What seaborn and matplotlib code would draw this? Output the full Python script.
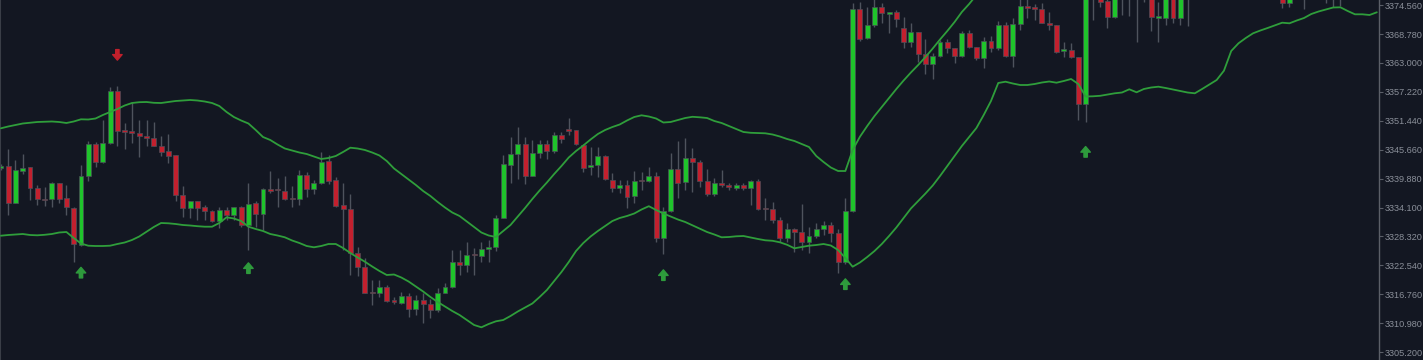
import numpy as np
import pandas as pd
import matplotlib
matplotlib.use("Agg")
import matplotlib.pyplot as plt
from matplotlib.transforms import offset_copy
import seaborn as sns

# ------------------------------------------------------------------------------
# 1. DATA
# ------------------------------------------------------------------------------
opens = [
    3342.00, 3342.46, 3335.06, 3341.46, 3342.14, 3337.94, 3335.74, 3335.74, 3338.94, 3336.00,
    3334.06, 3326.60, 3340.40, 3346.74, 3343.14, 3346.94, 3357.40, 3349.46, 3349.40, 3349.00,
    3348.46, 3348.00, 3346.46, 3345.40, 3344.54, 3336.54, 3333.94, 3335.46, 3334.20, 3333.40,
    3331.46, 3333.60, 3332.60, 3334.20, 3330.60, 3334.94, 3332.74, 3337.80, 3337.60, 3337.40,
    3335.94, 3335.74, 3340.54, 3337.74, 3339.06, 3343.40, 3339.60, 3334.60, 3333.74, 3324.94,
    3322.26, 3317.14, 3317.06, 3318.14, 3315.60, 3314.94, 3316.40, 3313.74, 3315.60, 3314.80,
    3313.60, 3317.06, 3318.26, 3323.14, 3322.60, 3324.60, 3324.46, 3325.80, 3326.20, 3332.00,
    3342.60, 3344.74, 3346.74, 3340.46, 3344.94, 3346.74, 3345.40, 3348.60, 3349.74, 3349.60,
    3346.60, 3342.14, 3342.60, 3344.46, 3339.60, 3337.94, 3338.60, 3336.40, 3339.40, 3339.40,
    3340.46, 3328.06, 3333.40, 3341.74, 3339.14, 3343.94, 3343.26, 3339.46, 3336.80, 3339.06,
    3338.54, 3338.06, 3338.54, 3338.06, 3339.40, 3333.80, 3333.80, 3331.60, 3328.06, 3329.80,
    3329.14, 3327.14, 3328.46, 3329.74, 3330.60, 3329.06, 3323.14, 3333.40, 3373.80, 3367.94,
    3370.60, 3374.14, 3372.74, 3373.14, 3369.94, 3367.14, 3369.14, 3364.80, 3362.80, 3364.40,
    3367.26, 3365.94, 3364.46, 3368.94, 3366.14, 3363.94, 3367.34, 3366.06, 3370.54, 3364.46,
    3370.80, 3374.40, 3374.20, 3373.80, 3371.06, 3370.54, 3365.40, 3365.60, 3364.14, 3354.74,
    3376.80, 3378.00, 3375.40, 3372.14, 3376.20, 3378.60, 3376.60, 3379.20, 3377.20, 3372.10,
    3372.06, 3376.20, 3371.94, 3376.60, 3378.60, 3381.20, 3379.60, 3382.00, 3380.60, 3383.60,
    3382.60, 3384.60, 3383.20, 3381.60, 3379.60, 3378.00, 3376.60, 3375.06, 3377.20, 3379.20,
    3376.80, 3378.80, 3380.40, 3378.40, 3376.40, 3378.00, 3380.00, 3381.60, 3380.40, 3382.40,
]
closes = [
    3342.40, 3335.06, 3341.54, 3342.06, 3337.94, 3335.74, 3335.66, 3338.94, 3335.86, 3334.14,
    3326.74, 3340.34, 3346.74, 3343.14, 3346.94, 3357.40, 3349.46, 3349.30, 3348.94, 3348.46,
    3347.94, 3346.46, 3345.26, 3344.46, 3336.54, 3333.94, 3335.46, 3333.94, 3333.46, 3331.46,
    3333.60, 3332.60, 3334.20, 3330.60, 3334.86, 3332.74, 3337.80, 3337.46, 3337.54, 3335.86,
    3335.74, 3340.54, 3337.74, 3339.06, 3343.26, 3339.46, 3334.40, 3333.74, 3324.94, 3322.26,
    3317.06, 3317.06, 3318.14, 3315.46, 3315.14, 3316.40, 3313.74, 3315.60, 3314.80, 3313.60,
    3317.06, 3318.26, 3323.14, 3322.60, 3324.60, 3324.54, 3325.80, 3326.26, 3332.00, 3342.74,
    3344.74, 3346.74, 3340.46, 3344.94, 3346.74, 3345.40, 3348.60, 3347.74, 3349.46, 3346.74,
    3342.06, 3342.60, 3344.40, 3339.74, 3337.94, 3338.60, 3336.26, 3339.40, 3339.34, 3340.46,
    3328.06, 3333.40, 3341.74, 3339.06, 3343.94, 3343.26, 3339.46, 3336.80, 3339.06, 3338.54,
    3338.14, 3338.54, 3338.06, 3339.40, 3333.80, 3333.74, 3331.60, 3328.06, 3329.80, 3329.14,
    3327.14, 3328.46, 3329.80, 3330.60, 3329.06, 3323.14, 3333.40, 3373.80, 3367.80, 3370.60,
    3374.26, 3372.94, 3373.14, 3371.80, 3367.14, 3369.14, 3364.80, 3362.80, 3364.40, 3367.26,
    3365.94, 3364.46, 3368.94, 3366.14, 3363.94, 3367.34, 3366.06, 3370.54, 3364.46, 3370.80,
    3374.40, 3374.06, 3373.80, 3371.06, 3370.54, 3365.26, 3365.74, 3364.26, 3354.74, 3377.20,
    3379.60, 3375.26, 3372.26, 3376.20, 3378.60, 3376.60, 3379.20, 3377.20, 3372.14, 3372.20,
    3376.00, 3371.94, 3376.60, 3378.60, 3381.20, 3379.60, 3382.00, 3380.60, 3383.60, 3382.60,
    3384.60, 3383.20, 3381.60, 3379.60, 3378.00, 3376.60, 3375.06, 3377.20, 3379.20, 3376.80,
    3378.80, 3380.40, 3378.40, 3376.40, 3378.00, 3380.00, 3381.60, 3380.40, 3382.40, 3381.20,
]
highs = [
    3342.80, 3345.80, 3343.54, 3344.86, 3342.20, 3338.60, 3338.26, 3339.26, 3339.06, 3338.60,
    3334.20, 3342.60, 3347.40, 3347.26, 3351.60, 3358.26, 3358.40, 3350.94, 3355.20, 3351.60,
    3351.60, 3351.26, 3348.40, 3348.74, 3344.60, 3338.40, 3335.50, 3335.50, 3334.60, 3333.60,
    3334.26, 3334.26, 3334.30, 3334.40, 3338.94, 3335.40, 3338.00, 3341.40, 3339.94, 3340.40,
    3338.46, 3341.60, 3341.26, 3339.60, 3345.26, 3344.60, 3340.26, 3338.94, 3336.74, 3326.26,
    3323.94, 3319.60, 3319.60, 3318.60, 3316.26, 3317.26, 3316.94, 3316.60, 3316.94, 3315.74,
    3317.94, 3319.06, 3325.60, 3325.60, 3327.26, 3325.94, 3327.26, 3327.60, 3332.60, 3344.60,
    3348.26, 3350.14, 3348.26, 3347.60, 3347.60, 3347.60, 3349.26, 3349.26, 3351.94, 3349.70,
    3346.80, 3346.26, 3346.14, 3344.54, 3340.94, 3339.60, 3339.60, 3341.40, 3341.26, 3342.14,
    3341.26, 3334.14, 3344.94, 3347.46, 3347.94, 3345.94, 3343.60, 3341.74, 3339.94, 3341.60,
    3338.94, 3338.94, 3338.94, 3339.60, 3339.74, 3335.94, 3335.14, 3332.26, 3330.94, 3329.94,
    3334.80, 3330.26, 3330.94, 3331.40, 3331.26, 3329.74, 3335.94, 3375.00, 3375.20, 3374.26,
    3375.80, 3374.94, 3373.20, 3373.60, 3372.14, 3370.94, 3369.20, 3367.74, 3365.06, 3367.60,
    3367.74, 3366.00, 3369.46, 3369.60, 3366.26, 3368.26, 3368.40, 3371.46, 3371.26, 3371.94,
    3376.00, 3376.20, 3374.80, 3374.94, 3373.26, 3370.60, 3367.14, 3367.06, 3364.20, 3378.60,
    3381.60, 3379.20, 3376.60, 3377.20, 3380.00, 3380.60, 3381.20, 3380.60, 3378.00, 3375.26,
    3377.20, 3377.20, 3377.60, 3380.00, 3382.60, 3382.40, 3383.60, 3383.20, 3384.80, 3385.20,
    3386.00, 3385.60, 3384.60, 3382.80, 3381.20, 3379.20, 3378.00, 3378.40, 3380.40, 3380.40,
    3380.00, 3381.60, 3381.60, 3379.60, 3379.20, 3381.20, 3382.80, 3383.20, 3383.60, 3384.00,
]
lows = [
    3341.60, 3332.60, 3335.00, 3340.74, 3335.60, 3334.60, 3334.40, 3334.14, 3334.94, 3332.60,
    3323.26, 3326.50, 3339.46, 3342.14, 3343.10, 3346.90, 3346.40, 3345.80, 3347.00, 3344.26,
    3346.46, 3346.40, 3344.40, 3342.94, 3335.46, 3332.14, 3332.06, 3331.60, 3331.60, 3331.26,
    3329.94, 3331.60, 3331.60, 3330.26, 3325.60, 3330.26, 3329.60, 3336.94, 3334.14, 3335.60,
    3334.14, 3334.60, 3336.26, 3336.80, 3338.80, 3338.80, 3334.14, 3325.60, 3320.60, 3320.46,
    3316.94, 3314.60, 3316.26, 3315.26, 3314.80, 3314.80, 3312.26, 3312.60, 3311.06, 3311.94,
    3313.26, 3316.94, 3317.94, 3320.60, 3321.26, 3320.60, 3323.26, 3323.26, 3325.46, 3331.94,
    3338.94, 3339.80, 3338.74, 3340.40, 3343.94, 3343.74, 3344.94, 3347.06, 3348.60, 3346.60,
    3341.26, 3340.60, 3340.26, 3339.60, 3337.26, 3336.94, 3333.94, 3335.06, 3337.60, 3339.26,
    3327.26, 3324.80, 3333.26, 3335.94, 3337.60, 3337.26, 3338.14, 3336.46, 3336.46, 3338.26,
    3337.60, 3337.60, 3337.60, 3334.60, 3333.60, 3331.60, 3330.94, 3327.26, 3327.26, 3325.26,
    3325.60, 3325.06, 3327.94, 3328.60, 3327.26, 3321.06, 3322.80, 3333.20, 3367.46, 3367.74,
    3370.26, 3370.94, 3368.94, 3370.14, 3365.94, 3366.26, 3363.26, 3360.80, 3359.74, 3364.26,
    3364.94, 3363.06, 3364.26, 3366.00, 3363.60, 3361.94, 3365.14, 3365.60, 3364.26, 3362.26,
    3369.60, 3371.94, 3371.60, 3370.94, 3369.60, 3365.06, 3364.14, 3363.94, 3351.60, 3351.14,
    3371.60, 3374.26, 3369.94, 3372.06, 3372.60, 3372.40, 3367.26, 3375.20, 3369.46, 3367.26,
    3370.60, 3371.06, 3370.60, 3370.40, 3376.60, 3377.60, 3378.00, 3378.60, 3379.20, 3380.60,
    3381.20, 3381.60, 3380.00, 3378.00, 3376.60, 3375.80, 3373.94, 3374.26, 3376.00, 3373.74,
    3375.80, 3376.80, 3374.94, 3374.26, 3374.40, 3376.20, 3378.60, 3379.20, 3379.60, 3380.00,
]

# Bollinger-style envelope (upper leaves the chart after the breakout)
upper_band = [
    3349.94, 3350.30, 3350.60, 3350.90, 3351.06, 3351.20, 3351.26, 3351.30, 3351.20, 3351.00,
    3351.30, 3351.74, 3351.70, 3351.90, 3352.60, 3353.20, 3353.80, 3354.50, 3355.00, 3355.16,
    3355.20, 3355.04, 3355.00, 3355.20, 3355.40, 3355.50, 3355.60, 3355.50, 3355.30, 3355.00,
    3354.40, 3353.20, 3352.20, 3351.50, 3350.90, 3349.60, 3348.20, 3347.60, 3346.70, 3345.90,
    3345.50, 3345.10, 3344.80, 3344.30, 3343.80, 3344.00, 3344.40, 3345.20, 3346.06, 3345.90,
    3345.60, 3345.10, 3344.50, 3343.40, 3341.90, 3340.80, 3339.70, 3338.60, 3337.40, 3336.40,
    3335.20, 3334.10, 3333.10, 3332.40, 3331.30, 3330.20, 3329.10, 3328.50, 3328.20, 3329.40,
    3330.60, 3332.30, 3334.00, 3335.80, 3337.50, 3339.10, 3340.80, 3342.40, 3344.10, 3345.40,
    3346.50, 3347.70, 3348.80, 3349.60, 3350.20, 3350.70, 3351.50, 3352.20, 3352.54, 3352.30,
    3351.90, 3351.10, 3351.20, 3351.60, 3352.00, 3352.24, 3352.14, 3352.00, 3351.40, 3351.00,
    3350.40, 3349.80, 3349.20, 3349.04, 3349.00, 3348.94, 3348.70, 3348.30, 3347.80, 3347.40,
    3346.80, 3346.20, 3344.40, 3343.20, 3342.10, 3341.40, 3341.40, 3345.60, 3348.26, 3350.40,
    3352.40, 3354.20, 3356.00, 3357.80, 3359.50, 3361.10, 3362.60, 3364.20, 3365.90, 3367.70,
    3369.40, 3371.20, 3373.20, 3374.80, 3376.60, 3378.20,
]
lower_band = [
    3328.46, 3328.60, 3328.70, 3328.80, 3328.60, 3328.54, 3328.64, 3328.80, 3329.10, 3329.20,
    3328.00, 3326.90, 3326.46, 3326.40, 3326.40, 3326.46, 3326.80, 3327.10, 3327.60, 3328.30,
    3329.26, 3330.20, 3331.00, 3330.94, 3330.80, 3330.60, 3330.50, 3330.36, 3330.26, 3330.26,
    3331.00, 3332.14, 3331.90, 3331.40, 3330.26, 3329.80, 3329.40, 3328.80, 3328.50, 3328.14,
    3327.50, 3327.00, 3326.40, 3326.14, 3326.40, 3326.80, 3326.80, 3326.00, 3325.00, 3324.10,
    3323.26, 3322.30, 3321.40, 3320.60, 3320.70, 3320.10, 3319.30, 3318.30, 3317.30, 3316.20,
    3315.20, 3314.30, 3313.40, 3312.60, 3311.60, 3310.60, 3310.14, 3310.80, 3311.34, 3311.60,
    3312.40, 3313.30, 3314.10, 3314.90, 3316.20, 3317.60, 3319.40, 3321.20, 3323.20, 3325.40,
    3327.00, 3328.30, 3329.40, 3330.40, 3331.40, 3332.00, 3332.40, 3332.90, 3333.70, 3334.36,
    3333.60, 3332.90, 3332.30, 3331.70, 3331.20, 3330.54, 3329.90, 3329.20, 3328.70, 3328.14,
    3328.20, 3328.34, 3328.40, 3328.10, 3327.80, 3327.54, 3327.44, 3327.14, 3326.64, 3325.94,
    3326.20, 3326.46, 3326.60, 3326.80, 3326.50, 3325.60, 3324.00, 3322.26, 3323.10, 3324.20,
    3325.40, 3326.80, 3328.40, 3330.10, 3332.00, 3333.90, 3335.40, 3336.90, 3338.50, 3340.40,
    3342.40, 3344.40, 3346.40, 3348.20, 3350.00, 3352.60, 3355.40, 3359.00, 3359.26, 3358.90,
    3358.60, 3358.60, 3358.80, 3359.10, 3359.30, 3359.06, 3359.40, 3359.80, 3358.80, 3356.30,
    3356.34, 3356.44, 3356.70, 3356.94, 3357.10, 3357.74, 3357.14, 3357.80, 3358.10, 3358.26,
    3358.00, 3357.70, 3357.40, 3357.10, 3356.94, 3357.80, 3358.70, 3359.60, 3361.46, 3365.40,
    3366.94, 3368.00, 3368.94, 3369.50, 3370.00, 3370.54, 3371.06, 3370.94, 3371.50, 3372.00,
    3372.80, 3373.30, 3373.70, 3374.10, 3374.14, 3373.40, 3372.74, 3372.74, 3372.60, 3373.14,
]

# signal arrows: candle index and price level of the arrow centre
buy_signals = [11, 34, 91, 116, 149]
buy_levels = [3321.10, 3322.00, 3320.60, 3318.80, 3345.26]
sell_signals = [16]
sell_levels = [3364.60]

price_ticks = [3305.20, 3310.98, 3316.76, 3322.54, 3328.32, 3334.10, 3339.88,
               3345.66, 3351.44, 3357.22, 3363.00, 3368.78, 3374.56]

# ------------------------------------------------------------------------------
# 2. STYLE
# ------------------------------------------------------------------------------
BG = "#131722"
UP = "#1fc42b"
DOWN = "#c3202e"
WICK = "#4e535d"
BAND = "#2f9e3b"

sns.set_style("dark", rc={"axes.facecolor": BG, "figure.facecolor": BG})
plt.rcParams["font.family"] = ["Liberation Sans", "DejaVu Sans"]

df = pd.DataFrame({"open": opens, "high": highs, "low": lows, "close": closes})
df["idx"] = np.arange(len(df))
df["up"] = df["close"] >= df["open"]
df["bottom"] = df[["open", "close"]].min(axis=1)
df["height"] = (df["close"] - df["open"]).abs().clip(lower=0.22)

fig = plt.figure(figsize=(14.23, 3.6), dpi=100)
ax = fig.add_axes([0, 0, 1379 / 1423, 1])
ax.set_facecolor(BG)

# ------------------------------------------------------------------------------
# 3. CANDLES + BANDS
# ------------------------------------------------------------------------------
ax.vlines(df["idx"], df["low"], df["high"], color=WICK, linewidth=1.0, zorder=1)
ax.bar(df["idx"], df["height"], bottom=df["bottom"], width=0.68,
       color=np.where(df["up"], UP, DOWN), edgecolor="#4a4e58", linewidth=0.5, zorder=2)

sns.lineplot(x=np.arange(len(upper_band)), y=upper_band, color=BAND, linewidth=1.3, ax=ax, zorder=3)
sns.lineplot(x=np.arange(len(lower_band)), y=lower_band, color=BAND, linewidth=1.3, ax=ax, zorder=3)

# signal arrows: tip ~5px above / below the stored centre, ~10px long
arrow_style = "simple,head_length=0.5,head_width=0.85,tail_width=0.3"
tip_up = offset_copy(ax.transData, fig=fig, y=3.7, units="points")
tip_down = offset_copy(ax.transData, fig=fig, y=-3.7, units="points")
for i, lvl in zip(buy_signals, buy_levels):
    ax.annotate("", xy=(i, lvl), xycoords=tip_up, xytext=(0, -7.6), textcoords="offset points",
                arrowprops=dict(arrowstyle=arrow_style, color="#2e9a3c", mutation_scale=8,
                                shrinkA=0, shrinkB=0), zorder=4)
for i, lvl in zip(sell_signals, sell_levels):
    ax.annotate("", xy=(i, lvl), xycoords=tip_down, xytext=(0, 7.6), textcoords="offset points",
                arrowprops=dict(arrowstyle=arrow_style, color="#c0202c", mutation_scale=8,
                                shrinkA=0, shrinkB=0), zorder=4)

# ------------------------------------------------------------------------------
# 4. AXES
# ------------------------------------------------------------------------------
ax.set_xlim(-0.124, 189.3)
ax.set_ylim(3303.6, 3375.6)
ax.set_xticks([])
ax.yaxis.tick_right()
ax.set_yticks(price_ticks)
ax.set_yticklabels([f"{t:.3f}" for t in price_ticks])
ax.tick_params(axis="y", colors="#5b5f68", labelsize=6.6, length=3, width=0.8,
               direction="out", pad=1, labelcolor="#8a8f99")
ax.set_xlabel("")
ax.set_ylabel("")
for side in ["top", "bottom"]:
    ax.spines[side].set_visible(False)
ax.spines["right"].set_color("#5b5f68")
ax.spines["right"].set_linewidth(1.0)
ax.spines["left"].set_color("#3a3e47")
ax.spines["left"].set_linewidth(1.5)
ax.grid(False)

fig.savefig("out.png", dpi=100, facecolor=BG)
